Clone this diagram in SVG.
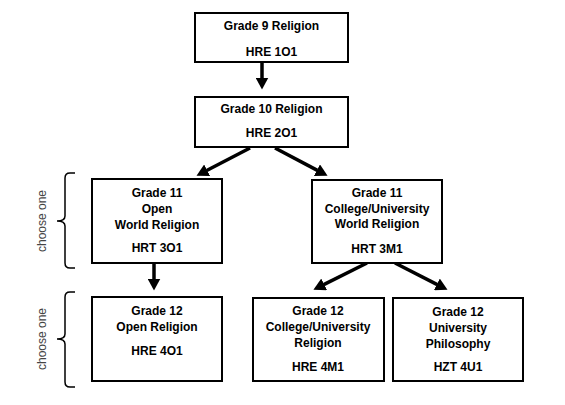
<svg xmlns="http://www.w3.org/2000/svg" width="565" height="405" viewBox="0 0 565 405">
<style>
.box{fill:#fff;stroke:#000;stroke-width:2}
.t{font-family:"Liberation Sans",Arial,sans-serif;font-weight:bold;font-size:12px;fill:#000;text-anchor:middle}
.c{font-family:"Liberation Sans",Arial,sans-serif;font-size:12px;fill:#444;text-anchor:middle}
.ar{stroke:#000;stroke-width:3.5;fill:none}
.br{stroke:#000;stroke-width:1.5;fill:none}
</style>
<defs>
<marker id="ah" markerUnits="userSpaceOnUse" markerWidth="12" markerHeight="13" viewBox="0 0 12 13" refX="0.5" refY="6.5" orient="auto">
<path d="M0,0 L12,6.5 L0,13 Z" fill="#000"/>
</marker>
</defs>
<rect width="565" height="405" fill="#fff"/>
<g id="connectors">
<line class="ar" x1="262" y1="62" x2="262" y2="78" marker-end="url(#ah)"/>
<line class="ar" x1="250" y1="148" x2="206.7" y2="170.5" marker-end="url(#ah)"/>
<line class="ar" x1="275" y1="148" x2="317.4" y2="170.4" marker-end="url(#ah)"/>
<line class="ar" x1="154" y1="263" x2="154" y2="279" marker-end="url(#ah)"/>
<line class="ar" x1="367" y1="263" x2="323.7" y2="284.6" marker-end="url(#ah)"/>
<line class="ar" x1="395" y1="263" x2="437.3" y2="284.6" marker-end="url(#ah)"/>
</g>
<g id="g9">
<rect class="box" x="195" y="13" width="153" height="49"/>
<text class="t" x="271.5" y="30">Grade 9 Religion</text>
<text class="t" x="271.5" y="56">HRE 1O1</text>
</g>
<g id="g10">
<rect class="box" x="195" y="97" width="153" height="50"/>
<text class="t" x="271.5" y="113">Grade 10 Religion</text>
<text class="t" x="271.5" y="137">HRE 2O1</text>
</g>
<g id="g11o">
<rect class="box" x="92" y="179" width="130" height="84"/>
<text class="t" x="157" y="197">Grade 11</text>
<text class="t" x="157" y="213">Open</text>
<text class="t" x="157" y="229">World Religion</text>
<text class="t" x="157" y="252">HRT 3O1</text>
</g>
<g id="g11m">
<rect class="box" x="312" y="180" width="130" height="83"/>
<text class="t" x="377" y="197">Grade 11</text>
<text class="t" x="377" y="213">College/University</text>
<text class="t" x="377" y="228">World Religion</text>
<text class="t" x="377" y="253">HRT 3M1</text>
</g>
<g id="g12o">
<rect class="box" x="92" y="297" width="130" height="84"/>
<text class="t" x="157" y="315">Grade 12</text>
<text class="t" x="157" y="331">Open Religion</text>
<text class="t" x="157" y="355">HRE 4O1</text>
</g>
<g id="g12m">
<rect class="box" x="253" y="298" width="131" height="83"/>
<text class="t" x="318" y="315">Grade 12</text>
<text class="t" x="318" y="331">College/University</text>
<text class="t" x="318" y="347">Religion</text>
<text class="t" x="318" y="371">HRE 4M1</text>
</g>
<g id="g12u">
<rect class="box" x="393" y="298" width="130" height="83"/>
<text class="t" x="458" y="316">Grade 12</text>
<text class="t" x="458" y="332">University</text>
<text class="t" x="458" y="348">Philosophy</text>
<text class="t" x="458" y="371">HZT 4U1</text>
</g>
<g id="bracket11">
<path class="br" d="M75,173 L70,173 Q65,173 65,178 L65,216 Q65,221 57,221 Q65,221 65,226 L65,263 Q65,268 70,268 L75,268"/>
<text class="c" transform="translate(46,221) rotate(-90)">choose one</text>
</g>
<g id="bracket12">
<path class="br" d="M75,292 L70,292 Q65,292 65,297 L65,334 Q65,339 57,339 Q65,339 65,344 L65,382 Q65,387 70,387 L75,387"/>
<text class="c" transform="translate(46,339) rotate(-90)">choose one</text>
</g>
</svg>
